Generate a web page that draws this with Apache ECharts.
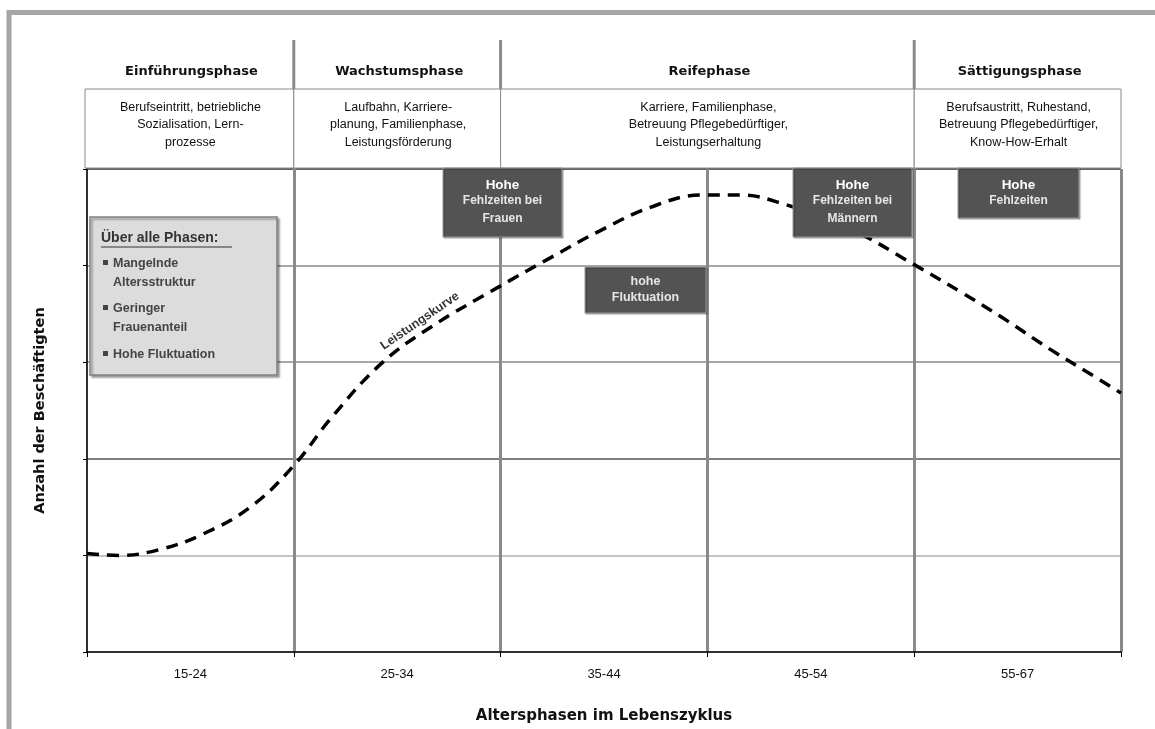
<!DOCTYPE html>
<html><head><meta charset="utf-8">
<script src="https://cdn.jsdelivr.net/npm/echarts@6/dist/echarts.min.js"></script>
<style>html,body{margin:0;padding:0;background:#fff;overflow:hidden}#c{width:1155px;height:729px}</style>
</head><body><div id="c"></div>
<script>
// ---- data ----
const categories = ['15-24', '25-34', '35-44', '45-54', '55-67'];
const phaseNames = ['Einführungsphase', 'Wachstumsphase', 'Reifephase', 'Sättigungsphase'];
const phaseSpans = [[0, 1], [1, 2], [2, 4], [4, 5]];
const phaseDescs = [
  'Berufseintritt, betriebliche\nSozialisation, Lern-\nprozesse',
  'Laufbahn, Karriere-\nplanung, Familienphase,\nLeistungsförderung',
  'Karriere, Familienphase,\nBetreuung Pflegebedürftiger,\nLeistungserhaltung',
  'Berufsaustritt, Ruhestand,\nBetreuung Pflegebedürftiger,\nKnow-How-Erhalt'
];
const curveX = [0, 0.16, 0.35, 0.55, 0.79, 1.0, 1.18, 1.42, 1.66, 2.0, 2.24, 2.48, 2.72, 2.97, 3.16, 3.35, 3.69, 4.0, 4.23, 4.42, 4.66, 4.85, 5.0];
const curveY = [1.02, 1.0, 1.06, 1.21, 1.5, 1.93, 2.42, 2.98, 3.36, 3.79, 4.08, 4.36, 4.6, 4.73, 4.73, 4.65, 4.38, 4.01, 3.72, 3.47, 3.13, 2.88, 2.68];
const curveName = 'Leistungskurve';
const overallTitle = 'Über alle Phasen:';
const overallItems = ['Mangelnde\nAltersstruktur', 'Geringer\nFrauenanteil', 'Hohe Fluktuation'];
const notes = [
  {head: 'Hohe', text: 'Fehlzeiten bei\nFrauen'},
  {head: '', text: 'hohe\nFluktuation'},
  {head: 'Hohe', text: 'Fehlzeiten bei\nMännern'},
  {head: 'Hohe', text: 'Fehlzeiten'}
];
const yMin = 0, yMax = 5, yStep = 1;

// ---- layout ----
const G = {left: 87, top: 169, width: 1034, height: 483};
const px = v => G.left + v / categories.length * G.width;
const FONT = '"Liberation Sans", Arial, sans-serif';
const BFONT = '"DejaVu Sans", Verdana, sans-serif';

const chart = echarts.init(document.getElementById('c'), null, {renderer: 'canvas'});

const graphics = [];
graphics.push({type: 'rect', z: 0, shape: {x: 9, y: 12.5, width: 1200, height: 800},
  style: {fill: 'none', stroke: '#a6a6a6', lineWidth: 5}});
[1, 2, 4].forEach(b => graphics.push({type: 'line', z: 1,
  shape: {x1: px(b), y1: 40, x2: px(b), y2: G.top}, style: {stroke: '#8a8a8a', lineWidth: 3}}));
phaseSpans.forEach((s, i) => {
  const x0 = i === 0 ? px(s[0]) - 2 : px(s[0]);
  const x1 = px(s[1]);
  graphics.push({type: 'rect', z: 2, shape: {x: x0, y: 89, width: x1 - x0, height: 79},
    style: {fill: '#fff', stroke: '#8a8a8a', lineWidth: 1}});
  graphics.push({type: 'text', z: 3, x: (x0 + x1) / 2 + 2, y: 72,
    style: {text: phaseNames[i], fill: '#111', font: 'bold 13px ' + BFONT, align: 'center', verticalAlign: 'middle'}});
  graphics.push({type: 'text', z: 3, x: (x0 + x1) / 2 + 1, y: 125,
    style: {text: phaseDescs[i], fill: '#111', font: '12.5px ' + FONT, lineHeight: 17.5, align: 'center', verticalAlign: 'middle'}});
});
const noteBoxes = [
  {x: 443, y: 168, w: 119, h: 69},
  {x: 585, y: 267, w: 121, h: 46},
  {x: 793, y: 168, w: 119, h: 69},
  {x: 958, y: 168, w: 121, h: 50}
];
noteBoxes.forEach((b, i) => {
  const n = notes[i];
  graphics.push({type: 'rect', z: 5, shape: {x: b.x, y: b.y, width: b.w, height: b.h},
    style: {fill: '#535353', stroke: '#9a9a9a', lineWidth: 1, shadowColor: 'rgba(0,0,0,0.3)', shadowOffsetX: 1, shadowOffsetY: 1, shadowBlur: 1}});
  if (n.head) {
    graphics.push({type: 'text', z: 6, x: b.x + b.w / 2, y: b.y + 17,
      style: {text: n.head, fill: '#fff', font: 'bold 13.5px ' + FONT, align: 'center', verticalAlign: 'middle'}});
    graphics.push({type: 'text', z: 6, x: b.x + b.w / 2, y: b.y + 24,
      style: {text: n.text, fill: '#e6e6e6', font: 'bold 12px ' + FONT, lineHeight: 18, align: 'center', verticalAlign: 'top'}});
  } else {
    graphics.push({type: 'text', z: 6, x: b.x + b.w / 2, y: b.y + b.h / 2,
      style: {text: n.text, fill: '#e6e6e6', font: 'bold 12.5px ' + FONT, lineHeight: 16, align: 'center', verticalAlign: 'middle'}});
  }
});
graphics.push({type: 'rect', z: 5, shape: {x: 90, y: 217, width: 187, height: 158},
  style: {fill: '#dcdcdc', stroke: '#808080', lineWidth: 1.5, shadowColor: 'rgba(0,0,0,0.35)', shadowOffsetX: 2, shadowOffsetY: 2, shadowBlur: 2}});
graphics.push({type: 'text', z: 6, x: 101, y: 238,
  style: {text: overallTitle, fill: '#333', font: 'bold 14px ' + FONT, verticalAlign: 'middle'}});
graphics.push({type: 'line', z: 6, shape: {x1: 101, y1: 247, x2: 232, y2: 247}, style: {stroke: '#333', lineWidth: 1}});
const itemY = [263, 308, 354];
overallItems.forEach((t, i) => {
  graphics.push({type: 'rect', z: 6, shape: {x: 103, y: itemY[i] - 3, width: 5, height: 5}, style: {fill: '#444'}});
  graphics.push({type: 'text', z: 6, x: 113, y: itemY[i] - 9,
    style: {text: t, fill: '#444', font: 'bold 12.5px ' + FONT, lineHeight: 19, verticalAlign: 'top'}});
});
graphics.push({type: 'text', z: 6, x: 420, y: 321, rotation: 0.6,
  style: {text: curveName, fill: '#333', font: 'bold 12.5px ' + FONT, align: 'center', verticalAlign: 'middle'}});

chart.setOption({
  animation: false,
  backgroundColor: '#fff',
  grid: {left: G.left, top: G.top, width: G.width, height: G.height, show: true, borderColor: '#777', borderWidth: 1},
  xAxis: [{
    type: 'category', data: categories, boundaryGap: true,
    axisLine: {lineStyle: {color: '#000', width: 1.5}},
    axisTick: {show: true, length: 5, lineStyle: {color: '#000'}},
    axisLabel: {color: '#111', fontSize: 13, fontFamily: FONT, margin: 16},
    splitLine: {show: true, interval: 0, lineStyle: {color: ['rgba(0,0,0,0)', '#8a8a8a', '#8a8a8a', '#8a8a8a', '#8a8a8a', '#888'], width: 3}},
    name: 'Altersphasen im Lebenszyklus', nameLocation: 'middle', nameGap: 57,
    nameTextStyle: {color: '#111', fontWeight: 'bold', fontSize: 15, fontFamily: BFONT}
  }, {
    type: 'value', min: 0, max: categories.length, show: false
  }],
  yAxis: {
    type: 'value', min: yMin, max: yMax, interval: yStep,
    axisLine: {show: true, lineStyle: {color: '#000', width: 1.5}},
    axisTick: {show: true, length: 4, lineStyle: {color: '#000'}},
    axisLabel: {show: false},
    splitLine: {show: true, lineStyle: {color: ['rgba(0,0,0,0)', '#b0b0b0', '#555', '#8a8a8a', '#8a8a8a', '#444'], width: 1.5}},
    name: 'Anzahl der Beschäftigten', nameLocation: 'middle', nameGap: 39, nameRotate: 90,
    nameTextStyle: {color: '#111', fontWeight: 'bold', fontSize: 14.5, fontFamily: BFONT}
  },
  series: [{
    type: 'line', name: curveName, xAxisIndex: 1, smooth: 0.4, showSymbol: false, z: 4,
    data: curveX.map((x, i) => [x, curveY[i]]),
    lineStyle: {color: '#000', width: 3.5, type: [12, 8]}
  }],
  graphic: graphics
});
</script></body></html>
